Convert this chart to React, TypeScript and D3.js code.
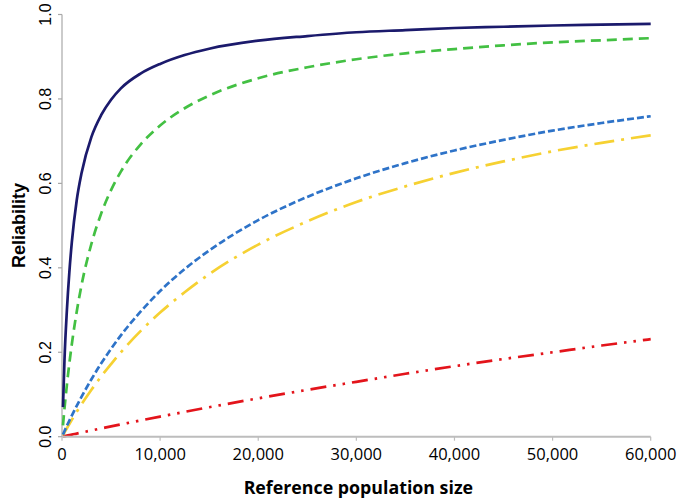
import React from 'react';
import * as d3 from 'd3';

const popSizes = [100, 250, 500, 750, 1000, 1500, 2000, 3000, 4000, 5000, 6000, 8000, 10000, 12500, 15000, 20000, 25000, 30000, 35000, 40000, 45000, 50000, 55000, 60000];

const navyValues = [0.07, 0.18, 0.3, 0.39, 0.46, 0.56, 0.625, 0.71, 0.762, 0.798, 0.825, 0.86, 0.883, 0.904, 0.919, 0.938, 0.949, 0.958, 0.963, 0.968, 0.971, 0.974, 0.976, 0.978];
const greenValues = [0.027, 0.066, 0.123, 0.174, 0.219, 0.296, 0.36, 0.457, 0.529, 0.584, 0.628, 0.692, 0.737, 0.778, 0.808, 0.849, 0.875, 0.894, 0.908, 0.918, 0.927, 0.934, 0.939, 0.944];
const blueValues = [0.005, 0.013, 0.026, 0.038, 0.05, 0.073, 0.095, 0.136, 0.174, 0.208, 0.24, 0.296, 0.345, 0.397, 0.441, 0.513, 0.568, 0.612, 0.648, 0.678, 0.703, 0.725, 0.743, 0.759];
const yellowValues = [0.004, 0.01, 0.02, 0.03, 0.04, 0.059, 0.077, 0.111, 0.143, 0.172, 0.2, 0.25, 0.294, 0.342, 0.385, 0.455, 0.51, 0.556, 0.593, 0.625, 0.652, 0.676, 0.696, 0.714];
const redValues = [0.0005, 0.0012, 0.0025, 0.0037, 0.005, 0.0074, 0.0099, 0.0148, 0.0196, 0.0244, 0.0291, 0.0385, 0.0476, 0.0588, 0.0698, 0.0909, 0.111, 0.13, 0.149, 0.167, 0.184, 0.2, 0.216, 0.231];

const xTicks = [0, 10000, 20000, 30000, 40000, 50000, 60000];
const yTicks = [0, 0.2, 0.4, 0.6, 0.8, 1.0];

const xTitle = 'Reference population size';
const yTitle = 'Reliability';

const seriesList = [
  { values: redValues, color: '#e3141b', dash: '16,7,2.5,7,2.5,7' },
  { values: yellowValues, color: '#f6d132', dash: '20,7,3,7' },
  { values: blueValues, color: '#2e73c8', dash: '7,3' },
  { values: greenValues, color: '#43c043', dash: '10,6' },
  { values: navyValues, color: '#1b1a6c', dash: 'none' },
];

export default function App() {
  const x = d3.scaleLinear().domain([0, 60000]).range([62, 650.7]);
  const y = d3.scaleLinear().domain([0, 1]).range([436.7, 14.5]);
  const fmt = d3.format(',');
  const line = d3
    .line<[number, number]>()
    .x((d) => x(d[0]))
    .y((d) => y(d[1]))
    .curve(d3.curveMonotoneX);

  return (
    <svg
      width={680}
      height={504}
      style={{ position: 'absolute', left: 0, top: 0, background: '#fff' }}
    >
      {/* y axis */}
      <line x1={x(0)} x2={x(0)} y1={y(0)} y2={y(1)} stroke="#a8a8a8" strokeWidth={1.2} />
      {yTicks.map((t) => (
        <g key={'y' + t}>
          <line x1={x(0) - 4} x2={x(0)} y1={y(t)} y2={y(t)} stroke="#a8a8a8" strokeWidth={1.2} />
          <text
            transform={`translate(51,${y(t)}) rotate(-90)`}
            textAnchor="middle"
            fontFamily="'Liberation Sans', Arial, sans-serif"
            fontSize={16}
            fill="#000"
          >
            {t.toFixed(1)}
          </text>
        </g>
      ))}
      {/* x axis */}
      {xTicks.map((t) => (
        <g key={'x' + t}>
          <line x1={x(t)} x2={x(t)} y1={y(0)} y2={y(0) + 4} stroke="#bdbdbd" strokeWidth={1.2} />
          <text
            x={x(t)}
            y={460}
            textAnchor="middle"
            fontFamily="'Open Sans', sans-serif"
            fontSize={16.5}
            fill="#000"
          >
            {fmt(t)}
          </text>
        </g>
      ))}
      {seriesList.map((s, i) => (
        <path
          key={i}
          d={line(popSizes.map((n, j) => [n, s.values[j]] as [number, number])) || ''}
          fill="none"
          stroke={s.color}
          strokeWidth={2.7}
          strokeDasharray={s.dash}
        />
      ))}
      <line x1={x(0)} x2={x(60000)} y1={y(0)} y2={y(0)} stroke="#bdbdbd" strokeWidth={2} />
      <text
        x={(x(0) + x(60000)) / 2 + 2}
        y={494}
        textAnchor="middle"
        fontFamily="'Open Sans', sans-serif"
        fontWeight="bold"
        fontSize={17.8}
        fill="#000"
      >
        {xTitle}
      </text>
      <text
        transform={`translate(25,${(y(0) + y(1)) / 2}) rotate(-90)`}
        textAnchor="middle"
        fontFamily="'Liberation Sans', Arial, sans-serif"
        fontWeight="bold"
        fontSize={18}
        fill="#000"
      >
        {yTitle}
      </text>
    </svg>
  );
}
